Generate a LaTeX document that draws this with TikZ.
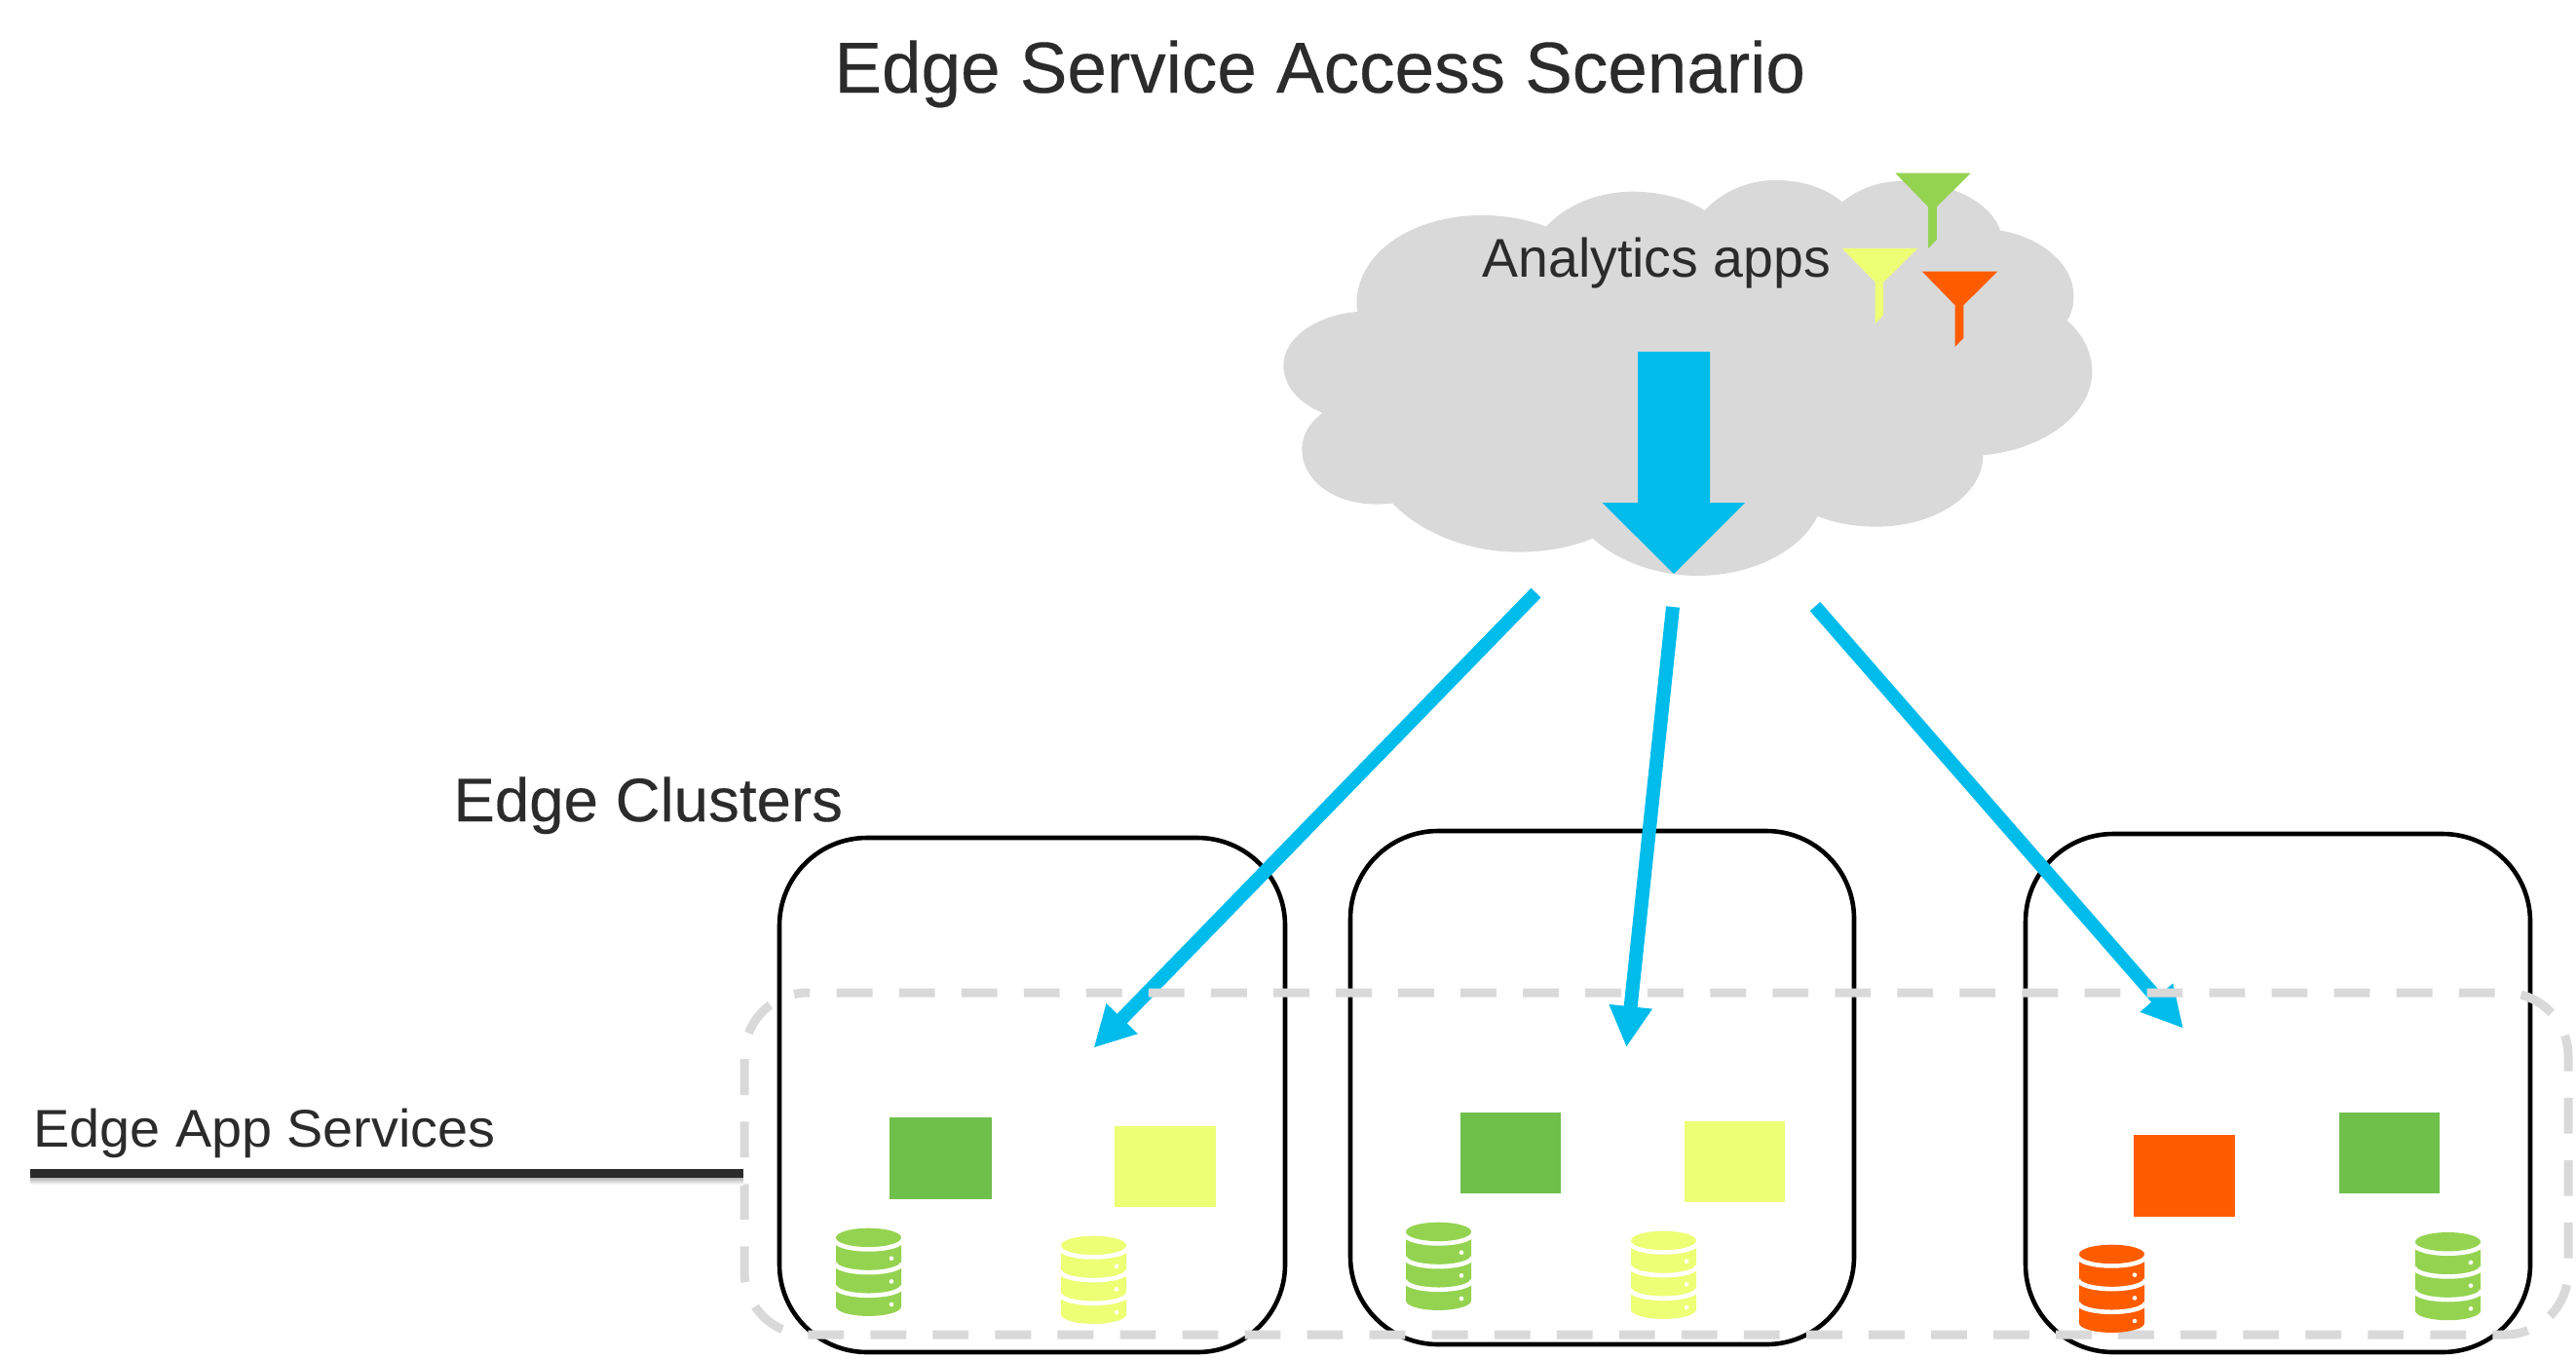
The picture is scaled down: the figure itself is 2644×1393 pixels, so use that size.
\documentclass[tikz,border=0pt]{standalone}
\usepackage{fontspec}
\setmainfont{Liberation Sans}
\newfontfamily\titlefont[FakeStretch=0.985,FakeBold=0.25]{Liberation Sans}
\newfontfamily\clusterfont[FakeStretch=1.01,FakeBold=0.25]{Liberation Sans}
\newfontfamily\appsfont[FakeStretch=1.025]{Liberation Sans}
\newfontfamily\cloudfont[FakeStretch=0.99]{Liberation Sans}
\usetikzlibrary{arrows.meta}
\definecolor{cyanA}{HTML}{00BCEB}
\definecolor{greyA}{HTML}{D9D9D9}
\definecolor{greenS}{HTML}{6FBF4B}
\definecolor{greenI}{HTML}{94D350}
\definecolor{yellowA}{HTML}{EDFF75}
\definecolor{orangeA}{HTML}{FF5C00}
\definecolor{inkA}{HTML}{2B2B2B}
\tikzset{
  clusterbox/.style={draw=black,line width=2.3pt,rounded corners=45pt},
  flowarrow/.style={draw=cyanA,line width=7pt,-{Triangle[length=21pt,width=20.8pt]}},
  servicebox/.style={line width=4.5pt,draw=greyA,dash pattern=on 18.4pt off 13.62pt,rounded corners=32.5pt},
  label/.style={inner sep=0pt,anchor=base west,text=inkA},
}
\newcommand{\dbicon}[3]{%
  \begin{scope}[shift={(#1,#2)}]
    \fill[#3] (0,9.7) -- (67,9.7) -- (67,80.5) arc[start angle=0,end angle=180,x radius=33.5,y radius=9.7] -- cycle;
    \filldraw[white,line width=2.3pt] (68,12) arc[start angle=0,end angle=180,x radius=34.5,y radius=9.7] -- cycle;
    \draw[white,line width=2.3pt] (68,35.7) arc[start angle=0,end angle=180,x radius=34.5,y radius=9.7];
    \draw[white,line width=2.3pt] (68,59.4) arc[start angle=0,end angle=180,x radius=34.5,y radius=9.7];
    \fill[#3] (33.5,9.7) ellipse[x radius=33.5,y radius=9.7];
    \fill[white] (57,31) circle[radius=2.3] (57,54.7) circle[radius=2.3] (57,78.3) circle[radius=2.3];
  \end{scope}}
\newcommand{\funnel}[3]{%
  \fill[#3,shift={(#1,#2)}] (1159,83) -- (1294,83) -- (1233,187) -- (1233,288) -- (1218,315) -- (1218,187) -- cycle;}
\begin{document}
\begin{tikzpicture}[x=0.5pt,y=-0.5pt]
\useasboundingbox (0,0) rectangle (2644,1393);
% cloud
\begin{scope}[shift={(1280,150)},xscale=0.574,yscale=0.3333]
\fill[greyA] (197,510)
 .. controls (185,340) and (290,213) .. (420,213)
 .. controls (465,213) and (505,228) .. (535,248)
 .. controls (570,180) and (630,140) .. (690,140)
 .. controls (740,140) and (790,165) .. (818,198)
 .. controls (850,140) and (895,105) .. (945,105)
 .. controls (995,105) and (1035,130) .. (1064,172)
 .. controls (1095,130) and (1130,108) .. (1170,108)
 .. controls (1260,108) and (1330,175) .. (1347,260)
 .. controls (1420,280) and (1478,365) .. (1478,460)
 .. controls (1478,490) and (1475,515) .. (1466,537)
 .. controls (1495,580) and (1511,635) .. (1511,695)
 .. controls (1511,825) and (1425,935) .. (1316,952)
 .. controls (1316,1075) and (1230,1172) .. (1125,1172)
 .. controls (1085,1172) and (1050,1160) .. (1020,1140)
 .. controls (990,1245) and (905,1323) .. (805,1323)
 .. controls (730,1323) and (660,1275) .. (618,1208)
 .. controls (580,1235) and (535,1250) .. (485,1250)
 .. controls (395,1250) and (310,1190) .. (260,1100)
 .. controls (160,1120) and (98,1030) .. (98,935)
 .. controls (98,890) and (112,850) .. (135,822)
 .. controls (90,790) and (65,735) .. (65,675)
 .. controls (65,590) and (125,520) .. (197,510) -- cycle;
\funnel{0}{0}{greenI}
\funnel{-95}{232}{yellowA}
\funnel{48}{303}{orangeA}
\end{scope}
% big arrow
\fill[cyanA] (1681,361) -- (1755,361) -- (1755,516) -- (1791,516) -- (1718,589) -- (1644.5,516) -- (1681,516) -- cycle;
% clusters
\draw[clusterbox] (800,860) rectangle (1319,1388);
\draw[clusterbox] (1386,853) rectangle (1903,1380);
\draw[clusterbox] (2079,856) rectangle (2597,1388);
% flow arrows
\coordinate (s1) at (1576.5,608.5);
\coordinate (t1) at (1122.4,1075.7);
\coordinate (s2) at (1717,623);
\coordinate (t2) at (1669.3,1075);
\coordinate (s3) at (1863,622.5);
\coordinate (t3) at (2241,1055.7);
\draw[flowarrow] (s1) -- (t1);
\draw[flowarrow] (s2) -- (t2);
\draw[flowarrow] (s3) -- (t3);
% service boundary
\draw[servicebox] (858.7,1019) -- (2636,1019) -- (2636,1370) -- (764,1370) -- (764,1019) -- (831,1019);
% leader
\shade[top color=black!30,bottom color=white] (31,1209) rectangle (763,1216);
\coordinate (leadA) at (31,1204.5);
\coordinate (leadB) at (763,1204.5);
\draw[inkA,line width=4.5pt] (leadA) -- (leadB);
% service squares
\fill[greenS] (913,1147) rectangle (1017.5,1231);
\fill[yellowA] (1144,1156) rectangle (1248,1239);
\fill[greenS] (1498.5,1142) rectangle (1602.4,1225);
\fill[yellowA] (1729,1151) rectangle (1832,1234);
\fill[orangeA] (2190,1165) rectangle (2293.5,1248.7);
\fill[greenS] (2401,1142) rectangle (2504,1225);
% databases
\dbicon{858}{1260.7}{greenI}
\dbicon{1089}{1268.7}{yellowA}
\dbicon{1443}{1254.7}{greenI}
\dbicon{1674}{1263.7}{yellowA}
\dbicon{2134}{1277.7}{orangeA}
\dbicon{2479}{1265}{greenI}
% labels
\node[label,font=\fontsize{37}{40}\titlefont] (title) at (856,95) {Edge Service Access Scenario};
\node[label,font=\fontsize{31.5}{34}\clusterfont] (clusters) at (465,843) {Edge Clusters};
\node[label,font=\fontsize{27.2}{30}\appsfont] (apps) at (34,1177) {Edge App Services};
\node[label,font=\fontsize{28}{30}\cloudfont] (analytics) at (1521,284) {Analytics apps};
\end{tikzpicture}
\end{document}
